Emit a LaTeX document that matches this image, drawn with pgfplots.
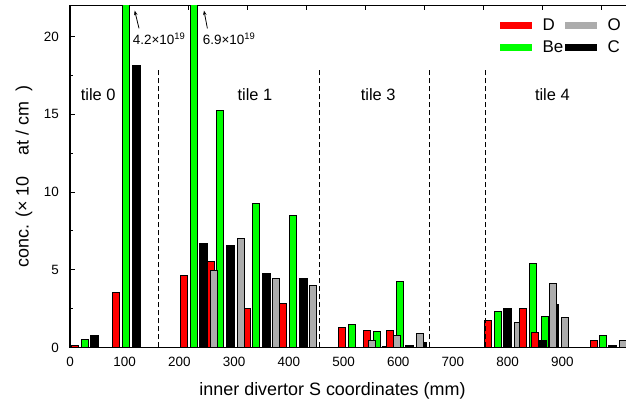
\documentclass[border=0pt]{standalone}
\usepackage{fontspec}
\setmainfont{Liberation Sans}
\usepackage{pgfplots}
\usepackage{pgfplotstable}
\pgfplotsset{compat=1.18}
\usetikzlibrary{arrows.meta}
\definecolor{cD}{RGB}{255,0,0}
\definecolor{cBe}{RGB}{0,255,0}
\definecolor{cO}{RGB}{172,172,172}
\definecolor{cC}{RGB}{0,0,0}

\pgfplotstableread{
x y
26.9 0.53
102.7 42
226.1 69
274.5 15.23
340.3 9.24
407.1 8.49
515.8 1.51
560.6 1.06
602.6 4.24
781.8 2.31
845.7 5.42
867.7 1.98
973.7 0.80
}\tBe

\pgfplotstableread{
x y
45.1 0.80
121.0 18.13
243.5 6.67
292.8 6.54
358.6 4.74
426.2 4.47
549.0 0.20
578.9 0.08
620.9 0.16
645.0 0.30
799.1 2.48
864.0 0.42
886.0 2.74
992.0 0.10
}\tC

\pgfplotstableread{
x y
8.6 0.12
84.4 3.56
207.8 4.60
257.2 5.50
323.0 2.48
389.7 2.80
497.5 1.28
542.3 1.08
584.4 1.08
763.5 1.73
849.4 0.98
957.3 0.42
}\tD

\pgfplotstableread{
x y
827.5 2.48
}\tDfront

\pgfplotstableread{
x y
262.7 4.93
312.0 6.99
376.0 4.41
443.6 4.01
552.4 0.42
597.1 0.74
639.2 0.89
818.3 1.64
882.3 4.13
904.2 1.90
1010.0 0.44
}\tO

\begin{document}
\begin{tikzpicture}
\begin{axis}[name=ax, scale only axis, width=560bp, height=342bp,
  xmin=0, xmax=1023.6, ymin=0, ymax=22,
  ybar, bar shift=0pt, bar width=13,
  xtick={0,100,...,900}, major x tick style={draw=none},
  ytick={0,5,...,20}, minor y tick num=1, ytick pos=left,
  tick align=inside, major tick length=5bp, minor tick length=3.5bp,
  axis line style={line width=1.1bp},
  tick style={line width=0.9bp, black},
  /pgf/number format/assume math mode=true,
  tick label style={font=\fontsize{13.5}{16}\selectfont},
  xticklabel style={inner sep=0pt, anchor=north, yshift=-9bp},
  yticklabel style={inner sep=0pt, anchor=east, xshift=-11bp},
  every axis x label/.style={at={(axis description cs:0.46875,0)}, anchor=base, yshift=-47.5bp, font=\fontsize{18}{20}\selectfont},
  every axis y label/.style={at={(axis description cs:-0.0741,0.5)}, rotate=90, anchor=base, font=\fontsize{18}{20}\selectfont},
  xlabel={inner divertor S coordinates (mm)},
  ylabel={conc. (× 10\hspace{21bp}at / cm\hspace{10bp})},
  legend columns=2, legend cell align=left,
  legend style={draw=none, fill=none, at={(axis description cs:0.7625,0.9608)}, anchor=north west,
    inner sep=0pt, outer sep=0pt, font=\fontsize{17}{19}\selectfont,
    nodes={inner sep=0pt},
    /tikz/every odd column/.append style={column sep=7bp},
    /tikz/every even column/.append style={column sep=-1bp},
    row sep=8.5bp},
]
\addlegendimage{legend image code/.code={\draw[line width=6.5bp, draw=cD] (0bp,0bp) -- (32bp,0bp);}}
\addlegendentry{D}
\addlegendimage{legend image code/.code={\draw[line width=6.5bp, draw=cO] (0bp,0bp) -- (32bp,0bp);}}
\addlegendentry{O}
\addlegendimage{legend image code/.code={\draw[line width=6.5bp, draw=cBe] (0bp,0bp) -- (32bp,0bp);}}
\addlegendentry{Be}
\addlegendimage{legend image code/.code={\draw[line width=6.5bp, draw=cC] (0bp,0bp) -- (32bp,0bp);}}
\addlegendentry{C}

\addplot[fill=cBe, draw=black, line width=1bp, forget plot] table[x=x,y=y] {\tBe};
\addplot[fill=cC, draw=black, line width=1bp, bar width=14.6, forget plot] table[x=x,y=y] {\tC};
\addplot[fill=cD, draw=black, line width=1bp, forget plot] table[x=x,y=y] {\tD};
\addplot[fill=cO, draw=black, line width=1bp, forget plot] table[x=x,y=y] {\tO};
\addplot[fill=cD, draw=black, line width=1bp, forget plot] table[x=x,y=y] {\tDfront};

\foreach \xx in {162.3,456.4,657.4,759.8}{
  \edef\tmp{\noexpand\draw[dash pattern=on 5bp off 3bp, line width=0.8bp] (axis cs:\xx,0) -- (axis cs:\xx,17.91);}\tmp
}
\foreach \xx in {108.0,216.0,324.1,432.1,540.1,648.1,756.2,864.2,972.2}{
  \edef\tmp{\noexpand\draw[line width=0.9bp] (axis cs:\xx,22) -- ([yshift=-5bp]axis cs:\xx,22);}\tmp
}
\node[anchor=base, font=\fontsize{16.5}{18}\selectfont] at (axis cs:51.5,15.92) {tile 0};
\node[anchor=base, font=\fontsize{16.5}{18}\selectfont] at (axis cs:338,15.92) {tile 1};
\node[anchor=base, font=\fontsize{16.5}{18}\selectfont] at (axis cs:563.3,15.92) {tile 3};
\node[anchor=base, font=\fontsize{16.5}{18}\selectfont] at (axis cs:881.7,15.92) {tile 4};

\draw[-{Stealth[length=4.5bp,width=3.5bp]}, line width=0.8bp] (axis cs:126.1,20.53) -- (axis cs:118.3,21.67);
\draw[-{Stealth[length=4.5bp,width=3.5bp]}, line width=0.8bp] (axis cs:251.1,20.53) -- (axis cs:244.9,21.67);
\node[anchor=base west, inner sep=0pt, font=\fontsize{13.5}{15}\selectfont] at (axis cs:114.6,19.46) {4.2×10\textsuperscript{19}};
\node[anchor=base west, inner sep=0pt, font=\fontsize{13.5}{15}\selectfont] at (axis cs:242.6,19.46) {6.9×10\textsuperscript{19}};
\end{axis}

\pgfresetboundingbox
\useasboundingbox ([xshift=-70bp,yshift=-62.5bp]ax.south west) rectangle ([xshift=556bp,yshift=5.5bp]ax.north west);
\end{tikzpicture}
\end{document}
